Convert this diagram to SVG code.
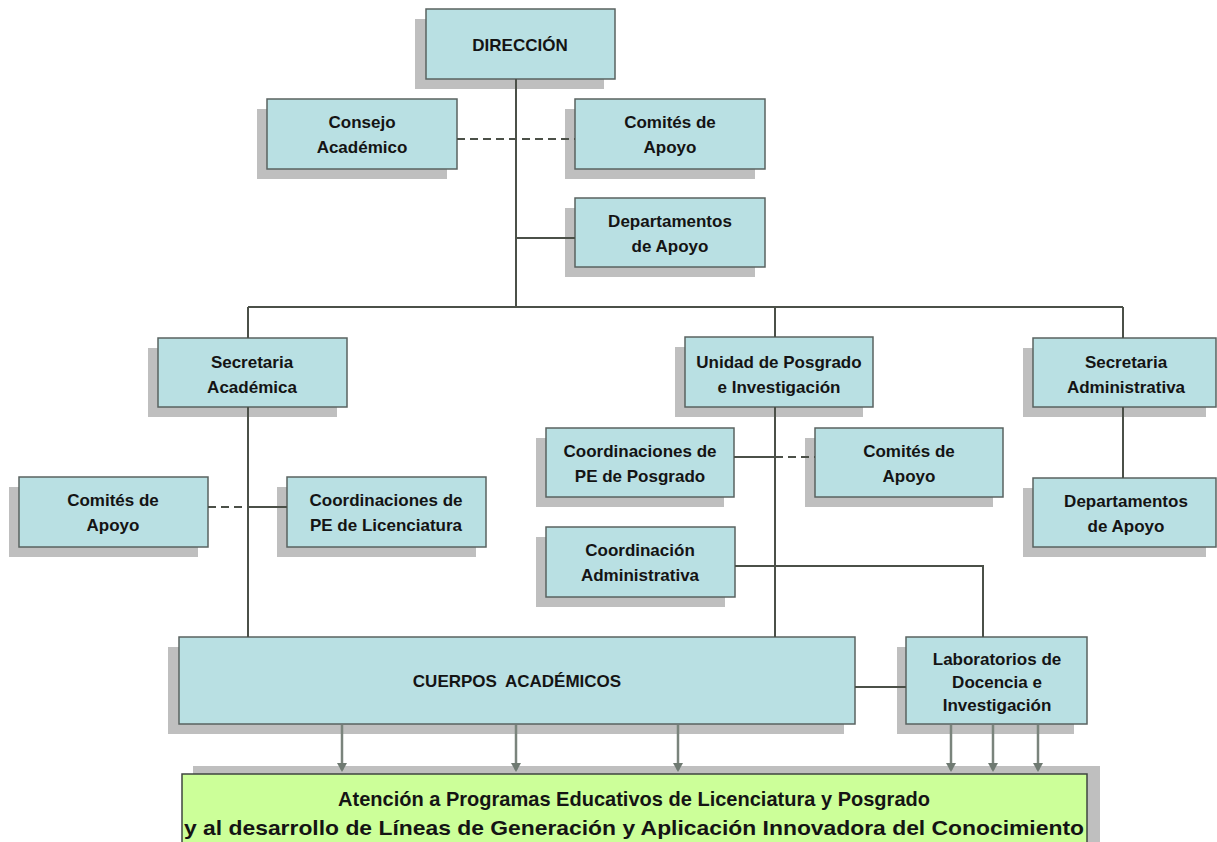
<svg xmlns="http://www.w3.org/2000/svg" width="1217" height="842" viewBox="0 0 1217 842">
  <style>
    .shadow { fill: #bfbfbf; }
    .box { fill: #b9e0e3; stroke: #5a6360; stroke-width: 1.5; }
    .goal { fill: #ccff99; stroke: #3f4540; stroke-width: 1.5; }
    .lbl { font-family: "Liberation Sans", Arial, sans-serif; font-weight: bold; font-size: 17px; fill: #141414; text-anchor: middle; }
    .big { font-family: "Liberation Sans", Arial, sans-serif; font-weight: bold; font-size: 21px; fill: #141414; text-anchor: middle; }
    .line { stroke: #4b5048; stroke-width: 2; fill: none; }
    .dash { stroke: #4b5048; stroke-width: 2; fill: none; stroke-dasharray: 8 5; }
    .arrow { stroke: #7a847c; stroke-width: 2.5; fill: none; marker-end: url(#head); }
  </style>
  <defs>
    <!-- arrowhead pointing along the path direction -->
    <marker id="head" markerWidth="9" markerHeight="10" refX="7" refY="5" orient="auto" markerUnits="userSpaceOnUse" viewBox="0 0 9 10">
      <path d="M0,0 L9,5 L0,10 Z" fill="#6f7a72"/>
    </marker>
  </defs>

  <rect width="1217" height="842" fill="#ffffff"/>

  <g id="direccion">
    <rect class="shadow" x="415" y="19" width="189" height="70"/>
    <rect class="box" x="426" y="9" width="189" height="70"/>
    <text class="lbl" x="520" y="51">DIRECCIÓN</text>
  </g>

  <g id="consejo-academico">
    <rect class="shadow" x="257" y="109" width="190" height="70"/>
    <rect class="box" x="267" y="99" width="190" height="70"/>
    <text class="lbl" x="362" y="128">Consejo</text>
    <text class="lbl" x="362" y="153">Académico</text>
  </g>

  <g id="comites-apoyo-direccion">
    <rect class="shadow" x="565" y="109" width="190" height="70"/>
    <rect class="box" x="575" y="99" width="190" height="70"/>
    <text class="lbl" x="670" y="128">Comités de</text>
    <text class="lbl" x="670" y="153">Apoyo</text>
  </g>

  <g id="departamentos-apoyo-direccion">
    <rect class="shadow" x="565" y="208" width="190" height="69"/>
    <rect class="box" x="575" y="198" width="190" height="69"/>
    <text class="lbl" x="670" y="227">Departamentos</text>
    <text class="lbl" x="670" y="252">de Apoyo</text>
  </g>

  <g id="secretaria-academica">
    <rect class="shadow" x="148" y="348" width="189" height="69"/>
    <rect class="box" x="158" y="338" width="189" height="69"/>
    <text class="lbl" x="252" y="368">Secretaria</text>
    <text class="lbl" x="252" y="393">Académica</text>
  </g>

  <g id="unidad-posgrado">
    <rect class="shadow" x="675" y="347" width="188" height="70"/>
    <rect class="box" x="685" y="337" width="188" height="70"/>
    <text class="lbl" x="779" y="368">Unidad de Posgrado</text>
    <text class="lbl" x="779" y="393">e Investigación</text>
  </g>

  <g id="secretaria-administrativa">
    <rect class="shadow" x="1023" y="348" width="183" height="69"/>
    <rect class="box" x="1033" y="338" width="183" height="69"/>
    <text class="lbl" x="1126" y="368">Secretaria</text>
    <text class="lbl" x="1126" y="393">Administrativa</text>
  </g>

  <g id="comites-apoyo-licenciatura">
    <rect class="shadow" x="9" y="487" width="189" height="70"/>
    <rect class="box" x="19" y="477" width="189" height="70"/>
    <text class="lbl" x="113" y="506">Comités de</text>
    <text class="lbl" x="113" y="531">Apoyo</text>
  </g>

  <g id="coordinaciones-licenciatura">
    <rect class="shadow" x="277" y="487" width="199" height="70"/>
    <rect class="box" x="287" y="477" width="199" height="70"/>
    <text class="lbl" x="386" y="506">Coordinaciones de</text>
    <text class="lbl" x="386" y="531">PE de Licenciatura</text>
  </g>

  <g id="coordinaciones-posgrado">
    <rect class="shadow" x="536" y="438" width="188" height="69"/>
    <rect class="box" x="546" y="428" width="188" height="69"/>
    <text class="lbl" x="640" y="457">Coordinaciones de</text>
    <text class="lbl" x="640" y="482">PE de Posgrado</text>
  </g>

  <g id="comites-apoyo-posgrado">
    <rect class="shadow" x="805" y="438" width="188" height="69"/>
    <rect class="box" x="815" y="428" width="188" height="69"/>
    <text class="lbl" x="909" y="457">Comités de</text>
    <text class="lbl" x="909" y="482">Apoyo</text>
  </g>

  <g id="departamentos-apoyo-administrativa">
    <rect class="shadow" x="1023" y="488" width="183" height="69"/>
    <rect class="box" x="1033" y="478" width="183" height="69"/>
    <text class="lbl" x="1126" y="507">Departamentos</text>
    <text class="lbl" x="1126" y="532">de Apoyo</text>
  </g>

  <g id="coordinacion-administrativa">
    <rect class="shadow" x="536" y="537" width="189" height="70"/>
    <rect class="box" x="546" y="527" width="189" height="70"/>
    <text class="lbl" x="640" y="556">Coordinación</text>
    <text class="lbl" x="640" y="581">Administrativa</text>
  </g>

  <g id="cuerpos-academicos">
    <rect class="shadow" x="168" y="647" width="676" height="87"/>
    <rect class="box" x="179" y="637" width="676" height="87"/>
    <text class="lbl" x="517" y="687" word-spacing="4">CUERPOS ACADÉMICOS</text>
  </g>

  <g id="laboratorios">
    <rect class="shadow" x="897" y="647" width="177" height="87"/>
    <rect class="box" x="906" y="637" width="181" height="87"/>
    <text class="lbl" x="997" y="665">Laboratorios de</text>
    <text class="lbl" x="997" y="688">Docencia e</text>
    <text class="lbl" x="997" y="711">Investigación</text>
  </g>

  <g id="atencion-programas">
    <rect class="shadow" x="193" y="766" width="907" height="80"/>
    <rect class="goal" x="182" y="774" width="905" height="75"/>
    <text class="big" x="634" y="806" textLength="592" lengthAdjust="spacingAndGlyphs">Atención a Programas Educativos de Licenciatura y Posgrado</text>
    <text class="big" x="634" y="835" textLength="900" lengthAdjust="spacingAndGlyphs">y al desarrollo de Líneas de Generación y Aplicación Innovadora del Conocimiento</text>
  </g>

  <!-- connectors, drawn over the box shadows -->
  <g id="connectors">
    <path class="line" d="M516,79 V307"/>
    <path class="dash" d="M457,139 H575"/>
    <path class="line" d="M516,238 H575"/>
    <path class="line" d="M248,307 H1123"/>
    <path class="line" d="M248,307 V338 M775,307 V337 M1123,307 V338"/>
    <path class="line" d="M248,407 V637"/>
    <path class="dash" d="M208,507 H248"/>
    <path class="line" d="M248,507 H287"/>
    <path class="line" d="M775,407 V637"/>
    <path class="line" d="M734,457 H775"/>
    <path class="dash" d="M775,457 H815"/>
    <path class="line" d="M1123,407 V478"/>
    <path class="line" d="M735,566 H983 V637"/>
    <path class="line" d="M855,687 H906"/>
    <path class="arrow" d="M342,725 V770"/>
    <path class="arrow" d="M516,725 V770"/>
    <path class="arrow" d="M678,725 V770"/>
    <path class="arrow" d="M951,725 V770"/>
    <path class="arrow" d="M993,725 V770"/>
    <path class="arrow" d="M1038,725 V770"/>
  </g>
</svg>
